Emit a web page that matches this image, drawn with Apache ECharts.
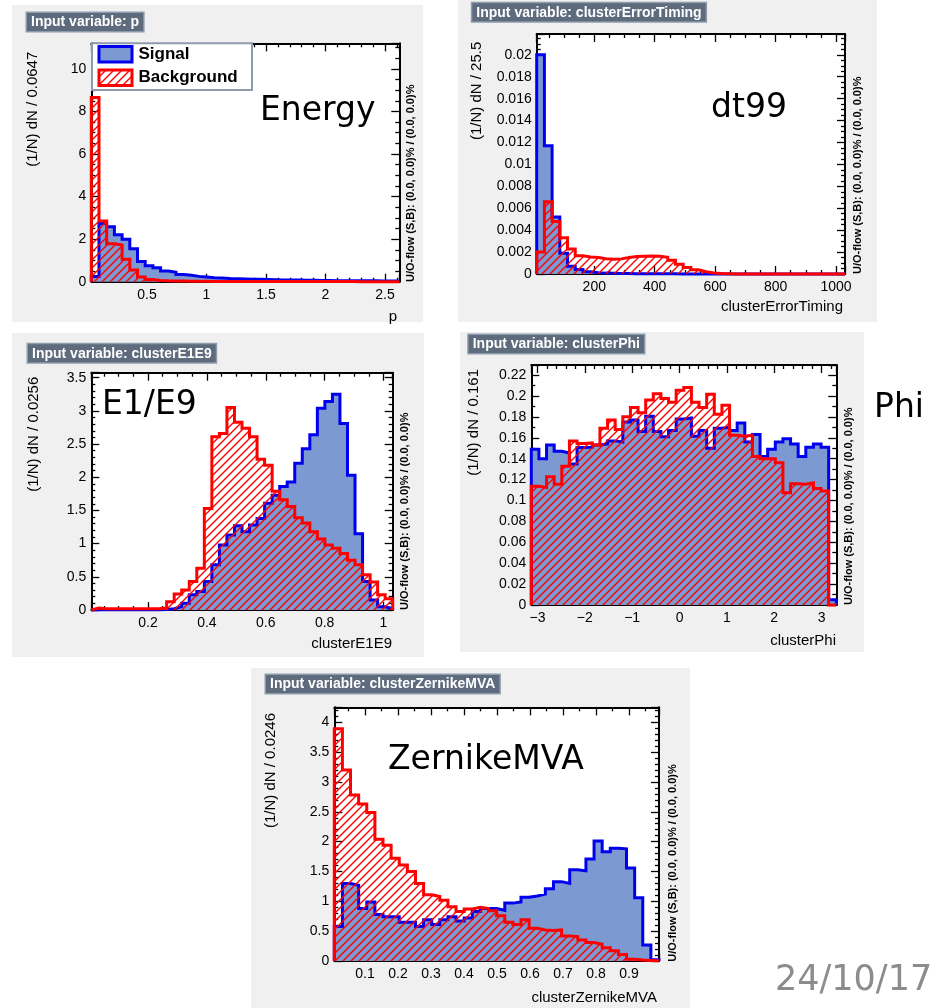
<!DOCTYPE html>
<html><head><meta charset="utf-8">
<script src="https://cdn.jsdelivr.net/npm/echarts@6/dist/echarts.min.js"></script>
<style>html,body{margin:0;padding:0;background:#fff}#c{width:938px;height:1008px}</style>
</head><body><div id="c"></div>
<script>
// ---------------- data (40 bins per histogram, normalised (1/N) dN/dx) ----------------
const pEdges = [0.032, 2.620];
const pSignal = [0.25,2.74,2.58,2.2,2.0,1.55,0.95,0.75,0.65,0.5,0.44,0.34,0.3,0.25,0.22,0.19,0.17,0.15,0.14,0.13,0.12,0.11,0.1,0.09,0.085,0.08,0.075,0.07,0.065,0.06,0.055,0.05,0.05,0.045,0.045,0.04,0.04,0.035,0.035,0.03];
const pBackground = [8.65,2.85,1.78,1.72,1.05,0.55,0.22,0.1,0.06,0.04,0.03,0.03,0.02,0.02,0.02,0.015,0.015,0.01,0.01,0.01,0.01,0.01,0.008,0.008,0.006,0.006,0.005,0.005,0.005,0.005,0.004,0.004,0.004,0.004,0.003,0.003,0.003,0.003,0.003,0.003];
const pYMax = 11.2;

const timingEdges = [9.5, 1029.5];
const timingSignal = [0.0200,0.0117,0.0052,0.0019,0.0007,0.0004,0.0002,0.00012,0.00008,0.00006,0.00005,0.00004,0.00003,0.00003,0.00002,0.00002,0.00002,0.00002,0.00001,0.00001,0.00001,0.00001,0,0,0,0,0,0,0,0,0,0,0,0,0,0,0,0,0,0];
const timingBackground = [0.0020,0.0066,0.0048,0.0033,0.00228,0.00167,0.00155,0.0015,0.0014,0.00135,0.00138,0.0015,0.0016,0.00163,0.00165,0.00162,0.00152,0.00125,0.0009,0.0006,0.00038,0.0002,0.0001,0.00004,0.00002,0,0,0,0,0,0,0,0,0,0,0,0,0,0,0];
const timingYMax = 0.0219;

const e1e9Edges = [0.0073, 1.0313];
const e1e9Signal = [0.005,0.005,0.005,0.005,0.005,0.005,0.005,0.005,0.005,0.008,0.02,0.05,0.1,0.23,0.28,0.43,0.68,0.98,1.13,1.27,1.18,1.28,1.38,1.61,1.73,1.86,1.93,2.21,2.43,2.64,3.04,3.14,3.25,2.81,2.03,1.15,0.43,0.15,0.05,0.02];
const e1e9Background = [0.03,0.02,0.02,0.02,0.02,0.02,0.02,0.02,0.02,0.03,0.125,0.24,0.3,0.43,0.63,1.53,2.61,2.66,3.05,2.83,2.74,2.61,2.27,2.18,1.79,1.66,1.56,1.39,1.31,1.18,1.07,0.98,0.93,0.85,0.75,0.68,0.53,0.42,0.23,0.17];
const e1e9YMax = 3.575;

const phiEdges = [-3.13, 3.31];
const phiSignal = [0.149,0.140,0.153,0.147,0.1455,0.135,0.1506,0.151,0.153,0.154,0.157,0.156,0.175,0.177,0.166,0.1806,0.166,0.161,0.167,0.178,0.179,0.1615,0.167,0.150,0.169,0.170,0.167,0.174,0.156,0.163,0.142,0.149,0.156,0.159,0.154,0.142,0.151,0.154,0.151,0.005];
const phiBackground = [0.1137,0.1124,0.1226,0.1156,0.1328,0.157,0.1545,0.155,0.153,0.169,0.177,0.168,0.180,0.189,0.184,0.196,0.202,0.1975,0.194,0.2054,0.208,0.194,0.189,0.2016,0.1825,0.191,0.1624,0.1615,0.1624,0.142,0.140,0.140,0.136,0.1073,0.116,0.1156,0.117,0.1115,0.109,0];
const phiYMax = 0.2296;

const zernikeEdges = [0.007, 0.991];
const zernikeSignal = [0.58,1.30,1.27,0.88,0.99,0.78,0.74,0.74,0.65,0.65,0.58,0.69,0.61,0.69,0.74,0.67,0.72,0.83,0.88,0.88,0.85,0.97,0.99,1.07,1.09,1.12,1.21,1.33,1.30,1.53,1.51,1.71,2.01,1.83,1.89,1.88,1.56,1.06,0.27,0.02];
const zernikeBackground = [3.89,3.20,2.78,2.63,2.49,2.04,1.94,1.72,1.61,1.50,1.30,1.11,1.08,1.02,0.91,0.83,0.87,0.90,0.88,0.84,0.76,0.65,0.61,0.69,0.55,0.52,0.51,0.52,0.42,0.41,0.35,0.31,0.28,0.22,0.17,0.11,0.03,0.015,0.01,0.005];
const zernikeYMax = 4.251;

const legendLabels = ['Signal', 'Background'];
const uoText = 'U/O-flow (S,B): (0.0, 0.0)% / (0.0, 0.0)%';

// ---------------- layout / styles ----------------
const FONT = '"Liberation Sans", Arial, Helvetica, sans-serif';
const BIG = '"DejaVu Sans", sans-serif';
const panels = [
  {title:'Input variable: p', xTitle:'p', yTitle:'(1/N) dN / 0.0647', edges:pEdges, ymax:pYMax, sig:pSignal, bkg:pBackground,
   bg:[12,5,411,317], box:[27,13], grid:[91.3,43.3,308,238.4], ySplit:5, yMinor:4, xSplit:5, xMinor:5,
   yT:[32.5,51.7], uo:[411,282], xT:[397,317]},
  {title:'Input variable: clusterErrorTiming', xTitle:'clusterErrorTiming', yTitle:'(1/N) dN / 25.5', edges:timingEdges, ymax:timingYMax, sig:timingSignal, bkg:timingBackground,
   bg:[458,0,419,322], box:[472.3,3.3], grid:[536.7,34,308.3,240], ySplit:11, yMinor:4, xSplit:5, xMinor:4,
   yT:[477,41.7], uo:[858,274], xT:[843,307]},
  {title:'Input variable: clusterE1E9', xTitle:'clusterE1E9', yTitle:'(1/N) dN / 0.0256', edges:e1e9Edges, ymax:e1e9YMax, sig:e1e9Signal, bkg:e1e9Background,
   bg:[12,333,412,324], box:[28,344.3], grid:[91.3,372.7,301.4,237.3], ySplit:7, yMinor:5, xSplit:5, xMinor:4,
   yT:[33.5,376.7], uo:[404.5,610], xT:[392,644]},
  {title:'Input variable: clusterPhi', xTitle:'clusterPhi', yTitle:'(1/N) dN / 0.161', edges:phiEdges, ymax:phiYMax, sig:phiSignal, bkg:phiBackground,
   bg:[460,332,404,320], box:[468.7,335], grid:[531.3,365,305,240], ySplit:11, yMinor:2, xSplit:6, xMinor:5,
   yT:[473.5,369], uo:[849,605], xT:[836,640.7]},
  {title:'Input variable: clusterZernikeMVA', xTitle:'clusterZernikeMVA', yTitle:'(1/N) dN / 0.0246', edges:zernikeEdges, ymax:zernikeYMax, sig:zernikeSignal, bkg:zernikeBackground,
   bg:[251,668,439,340], box:[266,675], grid:[334.3,707.3,324.7,253.7], ySplit:8, yMinor:5, xSplit:10, xMinor:2,
   yT:[270.5,713], uo:[672.5,961.7], xT:[657,998]}
];
const bigLabels = [
  {text:'Energy', x:260, y:111.5, size:33, color:'#000'},
  {text:'dt99', x:711, y:108, size:33, color:'#000'},
  {text:'E1/E9', x:102, y:405, size:33, color:'#000'},
  {text:'Phi', x:874, y:408, size:33, color:'#000'},
  {text:'ZernikeMVA', x:388, y:760, size:33, color:'#000'},
  {text:'24/10/17', x:775, y:981, size:35, color:'#8c8c8c'}
];

// hatch pattern (ROOT style "/" hatch in red)
function makeHatch(){
  const s = 8, c = document.createElement('canvas');
  c.width = s; c.height = s;
  const g = c.getContext('2d');
  g.strokeStyle = '#ff0000'; g.lineWidth = 1.4;
  g.beginPath();
  g.moveTo(-1, s + 1); g.lineTo(s + 1, -1);
  g.moveTo(-s/2 - 1, s/2 + 1); g.lineTo(s/2 + 1, -s/2 - 1);
  g.moveTo(s/2 - 1, 1.5*s + 1); g.lineTo(1.5*s + 1, s/2 - 1);
  g.stroke();
  return c;
}
const hatch = makeHatch();

function histPoints(edges, vals){
  const n = vals.length, w = (edges[1] - edges[0]) / n;
  const pts = [[edges[0], 0]];
  for (let i = 0; i < n; i++) pts.push([edges[0] + i * w, vals[i]]);
  pts.push([edges[1], vals[n - 1]]);
  pts.push([edges[1], 0]);
  return pts;
}
const fmt = v => String(parseFloat(Number(v).toFixed(6))).replace('-', '\u2212');

const grids = [], xAxes = [], yAxes = [], series = [], elements = [];
const tickStyle = {color:'#000', width:1.3};
panels.forEach((p, i) => {
  grids.push({left:p.grid[0], top:p.grid[1], width:p.grid[2], height:p.grid[3], show:true, backgroundColor:'#ffffff', borderWidth:0, containLabel:false, outerBoundsMode:'none'});
  const xBase = {gridIndex:i, type:'value', min:p.edges[0], max:p.edges[1], splitNumber:p.xSplit, splitLine:{show:false},
    axisLine:{show:true, onZero:false, lineStyle:{color:'#000', width:2}},
    axisTick:{show:true, inside:true, length:8, lineStyle:tickStyle},
    minorTick:{show:true, splitNumber:p.xMinor, length:4, lineStyle:tickStyle}};
  xAxes.push(Object.assign({}, xBase, {position:'bottom', axisLabel:{show:true, showMinLabel:false, showMaxLabel:false, formatter:fmt, color:'#000', fontSize:14, fontFamily:FONT, margin:6}}));
  xAxes.push(Object.assign({}, xBase, {position:'top', axisLabel:{show:false}}));
  const yBase = {gridIndex:i, type:'value', min:0, max:p.ymax, splitNumber:p.ySplit, splitLine:{show:false},
    axisLine:{show:true, onZero:false, lineStyle:{color:'#000', width:2}},
    axisTick:{show:true, inside:true, length:8, lineStyle:tickStyle},
    minorTick:{show:true, splitNumber:p.yMinor, length:4, lineStyle:tickStyle}};
  yAxes.push(Object.assign({}, yBase, {position:'left', axisLabel:{show:true, showMinLabel:true, showMaxLabel:false, formatter:fmt, color:'#000', fontSize:14, fontFamily:FONT, margin:5}}));
  yAxes.push(Object.assign({}, yBase, {position:'right', axisLabel:{show:false}}));

  series.push({type:'line', name:legendLabels[0] + ' ' + i, xAxisIndex:2*i, yAxisIndex:2*i, data:histPoints(p.edges, p.sig), step:'end',
    symbol:'none', clip:false, z:2, silent:true, animation:false,
    lineStyle:{color:'#0000ee', width:3, join:'miter'}, areaStyle:{color:'#7d99d1', opacity:1}});
  series.push({type:'line', name:legendLabels[1] + ' ' + i, xAxisIndex:2*i, yAxisIndex:2*i, data:histPoints(p.edges, p.bkg), step:'end',
    symbol:'none', clip:false, z:3, silent:true, animation:false,
    lineStyle:{color:'#ff0000', width:3, join:'miter'}, areaStyle:{color:{image:hatch, repeat:'repeat'}, opacity:1}});

  elements.push({type:'rect', z:-10, silent:true, shape:{x:p.bg[0], y:p.bg[1], width:p.bg[2], height:p.bg[3]}, style:{fill:'#f0f0f0'}});
  elements.push({type:'text', z:10, x:p.box[0], y:p.box[1], style:{text:p.title, fontSize:14, fontWeight:'bold', fontFamily:FONT, fill:'#ffffff',
    align:'left', verticalAlign:'top', backgroundColor:'#5d6b7d', borderColor:'#8d9bad', borderWidth:1.5, padding:[2,4,1,4], lineHeight:15}});
  elements.push({type:'text', z:10, x:p.yT[0], y:p.yT[1], rotation:Math.PI/2, style:{text:p.yTitle, fontSize:15, fontFamily:FONT, fill:'#000', align:'right', verticalAlign:'middle'}});
  elements.push({type:'text', z:10, x:p.uo[0], y:p.uo[1], rotation:Math.PI/2, style:{text:uoText, fontSize:11, fontWeight:'bold', fontFamily:FONT, fill:'#000', align:'left', verticalAlign:'middle'}});
  elements.push({type:'text', z:10, x:p.xT[0], y:p.xT[1], style:{text:p.xTitle, fontSize:15, fontFamily:FONT, fill:'#000', align:'right', verticalAlign:'middle'}});
});

// legend (panel 1)
elements.push({type:'rect', z:20, shape:{x:92, y:43.3, width:160, height:46.7}, style:{fill:'#ffffff', stroke:'#8d9bad', lineWidth:2}});
elements.push({type:'rect', z:21, shape:{x:99, y:46.5, width:33, height:15.5}, style:{fill:'#7d99d1', stroke:'#0000ee', lineWidth:3}});
elements.push({type:'rect', z:21, shape:{x:99, y:70, width:33, height:15.5}, style:{fill:{image:hatch, repeat:'repeat'}, stroke:'#ff0000', lineWidth:3}});
elements.push({type:'text', z:21, x:138.5, y:54.5, style:{text:legendLabels[0], fontSize:17, fontWeight:'bold', fontFamily:FONT, fill:'#000', align:'left', verticalAlign:'middle'}});
elements.push({type:'text', z:21, x:138.5, y:77, style:{text:legendLabels[1], fontSize:17, fontWeight:'bold', fontFamily:FONT, fill:'#000', align:'left', verticalAlign:'middle'}});

bigLabels.forEach(b => elements.push({type:'text', z:30, x:b.x, y:b.y, style:{text:b.text, fontSize:b.size, fontFamily:BIG, fill:b.color, align:'left', verticalAlign:'middle'}}));

const chart = echarts.init(document.getElementById('c'), null, {renderer:'canvas', width:938, height:1008});
chart.setOption({
  animation:false,
  backgroundColor:'#ffffff',
  grid:grids, xAxis:xAxes, yAxis:yAxes, series:series,
  graphic:{elements:elements}
});
</script>
</body></html>
